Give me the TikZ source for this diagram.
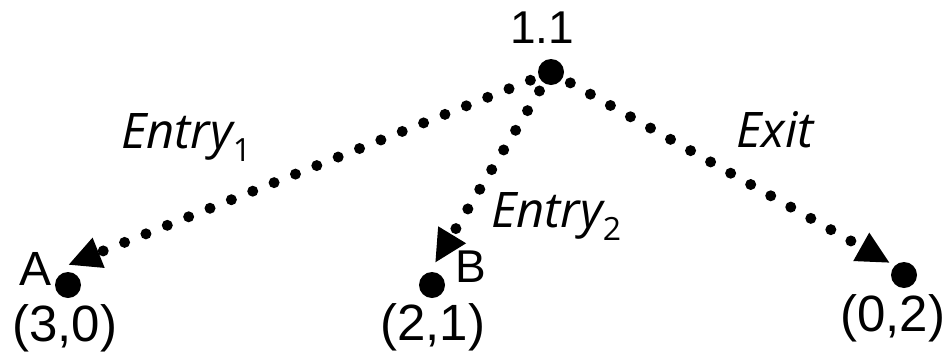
\documentclass[tikz,border=0pt]{standalone}
\usepackage{fontspec}
\setmainfont{Liberation Sans}
\newfontfamily\entryfont{Open Sans}
\usepackage{tikz}
\usetikzlibrary{arrows.meta}
\newcommand{\lowsub}[1]{\raisebox{-13pt}{\fontsize{32}{32}\selectfont\upshape #1}}
\tikzset{
    dot/.style={circle, fill=black, inner sep=0pt, minimum size=26pt},
    lbl/.style={anchor=base west, inner sep=0pt, font=\fontsize{46}{50}\selectfont},
    paylbl/.style={anchor=base west, inner sep=0pt, font=\fontsize{51}{54}\selectfont},
    movelbl/.style={anchor=base west, inner sep=0pt, font=\fontsize{49}{52}\selectfont\entryfont\itshape},
    move/.style={line width=11pt, line cap=round, dash pattern=on 0pt off 23pt,
        shorten <=9pt, -{Triangle[length=33pt, width=30pt]}}
}
\begin{document}
\begin{tikzpicture}[x=1pt, y=-1pt]
    \useasboundingbox (0,0) rectangle (948,354);
    % decision node and outcomes
    \node[dot] (root) at (551,72) {};
    \node[dot] (a) at (68,285) {};
    \node[dot] (b) at (432,285) {};
    \node[dot] (c) at (904,275) {};
    \node[lbl] (rootlbl) at (510,43) {1.1};
    \node[lbl, font=\fontsize{48}{50}\selectfont] (albl) at (19,285) {A};
    \node[paylbl] (apay) at (12,341) {(3,0)};
    \node[lbl] (blbl) at (455,282) {B};
    \node[paylbl] (bpay) at (380,340) {(2,1)};
    \node[paylbl] (cpay) at (840,331) {(0,2)};
    % moves
    \draw[move] (root) -- ([shift={(0,-20)}]a.center);
    \draw[move] (root) -- ([shift={(3,-22)}]b.center);
    \draw[move] (root) -- ([shift={(-14,-12)}]c.center);
    \node[movelbl] (entryone) at (121,148) {Entry\lowsub{1}};
    \node[movelbl] (entrytwo) at (491,227) {Entry\lowsub{2}};
    \node[movelbl] (exit) at (736,147) {Exit};
\end{tikzpicture}
\end{document}
